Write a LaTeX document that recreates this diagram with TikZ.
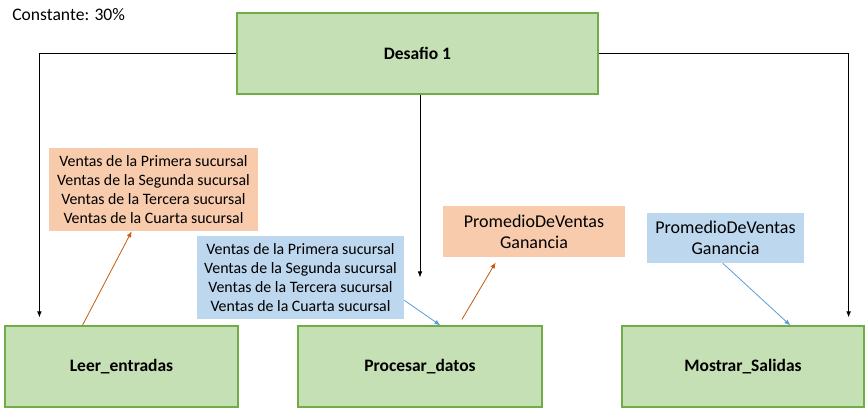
\documentclass[tikz,border=0pt]{standalone}
\usepackage{fontspec}
\setmainfont{Carlito}
\usetikzlibrary{arrows.meta}
\definecolor{gfill}{HTML}{C5E0B4}
\definecolor{gline}{HTML}{70AD47}
\definecolor{ofill}{HTML}{F8CBAD}
\definecolor{bfill}{HTML}{BDD7EE}
\definecolor{oline}{HTML}{C55A11}
\definecolor{bline}{HTML}{5B9BD5}
\tikzset{
  gbox/.style={draw=gline, fill=gfill, line width=0.9pt, inner sep=0pt, font=\fontsize{13.1pt}{15pt}\selectfont\bfseries},
  obox/.style={fill=ofill, inner sep=0pt, align=center},
  bbox/.style={fill=bfill, inner sep=0pt, align=center},
  small/.style={font=\fontsize{11.9pt}{14.25pt}\selectfont},
  big/.style={font=\fontsize{13.5pt}{15.75pt}\selectfont},
  blk/.style={draw=black, line width=0.6pt, -{Latex[length=4.5pt,width=3.5pt]}},
  oarr/.style={draw=oline, line width=0.6pt, -{Latex[length=4.5pt,width=3.5pt]}},
  barr/.style={draw=bline, line width=0.6pt, -{Latex[length=4.5pt,width=3.5pt]}},
}
\begin{document}
\begin{tikzpicture}[x=0.75pt, y=-0.75pt]
\useasboundingbox (0,0) rectangle (866,415);
\node[font=\fontsize{13.2pt}{15pt}\selectfont, anchor=west, inner sep=0pt] (const) at (12,15) {Constante: 30\%};
\node[gbox, minimum width=270.75pt, minimum height=60.75pt] (des) at (417.5,53.5) {Desafio 1};
\node[gbox, minimum width=174.75pt, minimum height=60.75pt] (leer) at (121.5,366.5) {Leer\_entradas};
\node[gbox, minimum width=183pt, minimum height=60.75pt] (proc) at (420,366.5) {Procesar\_datos};
\node[gbox, minimum width=181.5pt, minimum height=60.75pt] (mos) at (743,366.5) {Mostrar\_Salidas};
\node[obox, small, minimum width=156.75pt, minimum height=62.25pt] (o1) at (153.5,189.5) {Ventas de la Primera sucursal\\Ventas de la Segunda sucursal\\Ventas de la Tercera sucursal\\Ventas de la Cuarta sucursal};
\node[bbox, small, minimum width=155.25pt, minimum height=62.25pt] (b1) at (300.5,277.5) {Ventas de la Primera sucursal\\Ventas de la Segunda sucursal\\Ventas de la Tercera sucursal\\Ventas de la Cuarta sucursal};
\node[obox, big, minimum width=136.5pt, minimum height=38.25pt] (o2) at (534,231.5) {PromedioDeVentas\\Ganancia};
\node[bbox, big, minimum width=117.75pt, minimum height=37.5pt] (b2) at (725.5,238) {PromedioDeVentas\\Ganancia};
% black connectors
\draw[blk, shorten >=6pt] (des.west) -| ([xshift=26.25pt]leer.north west);
\draw[blk, shorten >=6pt] (des.east) -| ([xshift=-12pt]mos.north east);
\draw[blk, shorten >=36pt] (des.south -| proc.north) -- (proc.north);
% orange arrows
\draw[oarr] ([xshift=58.5pt]leer.north west) -- ([xshift=62.25pt]o1.south west);
\draw[oarr, shorten <=5.25pt, shorten >=4.5pt] ([xshift=120.75pt]proc.north west) -- ([xshift=42pt]o2.south west);
% blue arrows
\draw[barr] ([yshift=14.25pt]b1.south east) -- ([xshift=107.25pt]proc.north west);
\draw[barr] ([xshift=57pt]b2.south west) -- ([xshift=126.75pt]mos.north west);
\end{tikzpicture}
\end{document}
